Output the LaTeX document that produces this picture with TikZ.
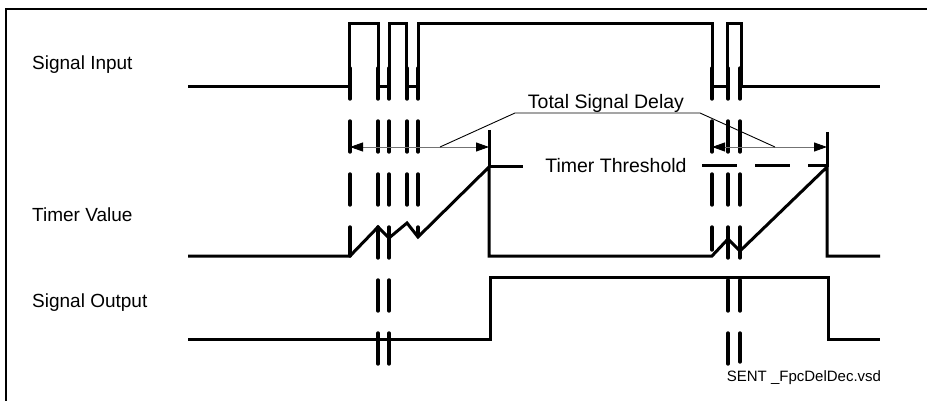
\documentclass[tikz,border=0pt]{standalone}
\usepackage{fontspec}
\setmainfont{Liberation Sans}
\usetikzlibrary{arrows.meta}
\begin{document}
\begin{tikzpicture}[x=1pt,y=-1pt,
  sig/.style={line width=3pt,line join=miter,line cap=butt},
  cut/.style={line width=3.4pt,line cap=round,dash pattern=on 31pt off 22pt},
  thr/.style={line width=3pt,dash pattern=on 35pt off 18pt},
  dim/.style={line width=0.9pt,draw=black!55,{Triangle[length=13pt,width=9pt,black]}-{Triangle[length=13pt,width=9pt,black]}},
  lead/.style={line width=0.9pt},
  lbl/.style={font=\fontsize{19}{22}\selectfont,inner sep=0pt,anchor=base west},
  txt/.style={font=\fontsize{19.5}{22}\selectfont,inner sep=0pt,anchor=base}]
\useasboundingbox (0,0) rectangle (927,401);
% frame
\draw[line width=1.2pt] (6,401) -- (6,9) -- (927,9);
% labels
\node[lbl] (lin) at (32,69.5) {Signal Input};
\node[lbl] (ltv) at (32,222) {Timer Value};
\node[lbl] (lout) at (32,307) {Signal Output};
% signal input
\draw[sig] (188,87) -- (349,87) -- (349,24) -- (378,24) -- (378,87) -- (389,87) -- (389,24)
  -- (406,24) -- (406,87) -- (418,87) -- (418,24) -- (712,24) -- (712,87) -- (727,87)
  -- (727,24) -- (741,24) -- (741,87) -- (880,87);
% timer value
\draw[sig] (188,256) -- (350,256) -- (378,227) -- (389,238) -- (407,223) -- (418,237)
  -- (489,167) -- (489,256) -- (712,256) -- (728,239) -- (740,251) -- (827,167) -- (827,256) -- (880,256);
\draw[sig] (489,130) -- (489,167) -- (523,167);
\draw[sig] (827,132) -- (827,167);
\draw[thr] (702,166) -- (827,166);
% signal output
\draw[sig] (188,339) -- (490,339) -- (490,277) -- (828,277) -- (828,339) -- (880,339);
% cut lines
\draw[cut] (350,68) -- (350,256);
\draw[cut] (378,68) -- (378,367);
\draw[cut] (389,68) -- (389,367);
\draw[cut] (407,68) -- (407,222);
\draw[cut] (418,68) -- (418,236);
\draw[cut] (712,68) -- (712,250);
\draw[cut] (728,68) -- (728,367);
\draw[cut] (740,68) -- (740,362);
% dimension arrows
\coordinate (a1) at (350,147); \coordinate (b1) at (489,147);
\coordinate (a2) at (712,147); \coordinate (b2) at (827,147);
\draw[dim] (a1) -- (b1);
\draw[dim] (a2) -- (b2);
% texts
\node[txt] (tsd) at (606,109) {Total Signal Delay};
\node[txt] (tth) at (616,173) {Timer Threshold};
\node[inner sep=0pt,anchor=base,font=\fontsize{15}{17}\selectfont] (fn) at (804,381) {SENT \_FpcDelDec.vsd};
% leaders
\coordinate (l1) at (440,147); \coordinate (l2) at (515,113);
\coordinate (l3) at (700,113); \coordinate (l4) at (775,147);
\draw[lead] (l1) -- (l2) -- (l3) -- (l4);
\end{tikzpicture}
\end{document}
